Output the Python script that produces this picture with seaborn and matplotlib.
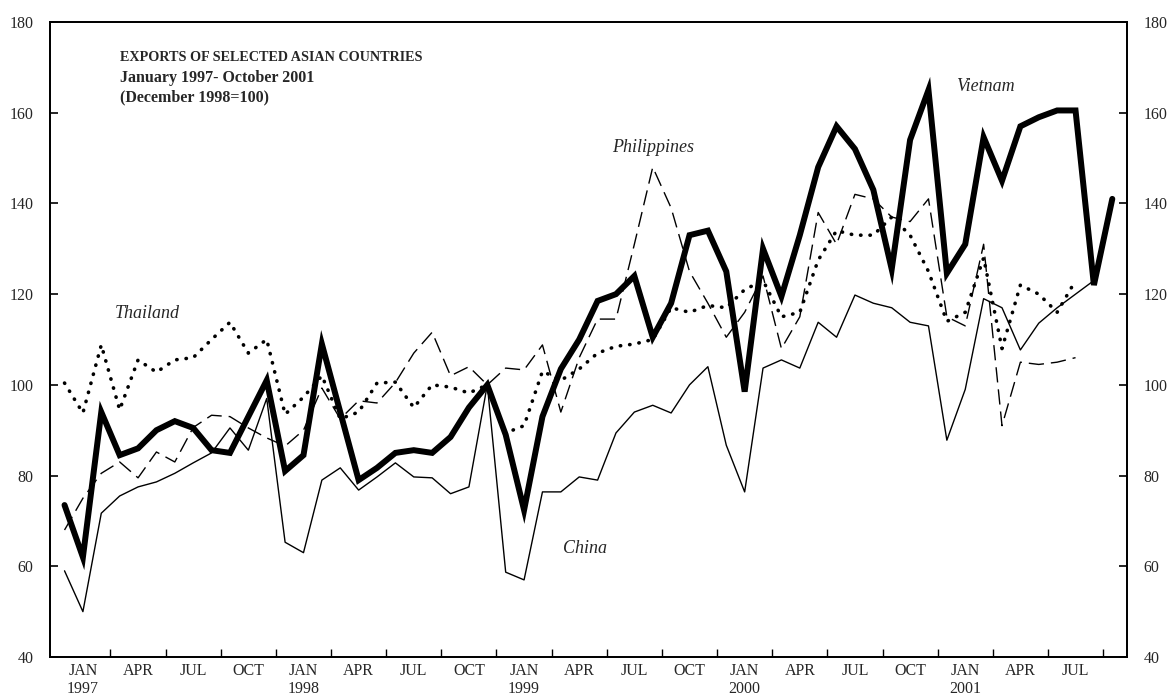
import numpy as np
import pandas as pd
import matplotlib
matplotlib.use("Agg")
import matplotlib.pyplot as plt
import seaborn as sns

nan = np.nan

# Monthly index, January 1997 - October 2001 (December 1998 = 100)
months = pd.date_range("1997-01-01", "2001-10-01", freq="MS")

vietnam = [73.5, 62, 94, 84.5, 86, 90, 92, 90.5, 85.6, 85, 93, 101,
           81, 84.5, 109, 94, 79, 81.7, 85, 85.6, 85, 88.5, 95, 100,
           89, 72.4, 93, 103.5, 110, 118.5, 120, 124, 110.5, 118, 133, 134,
           125, 98.5, 130, 119.5, 133, 148, 157, 152, 143, 125.5, 154, 165,
           124.6, 131, 154.6, 145, 157, 159, 160.5, 160.5, 122, 141]

china = [59, 50, 71.7, 75.5, 77.5, 78.6, 80.5, 82.8, 85, 90.5, 85.6, 97,
         65.3, 63, 79, 81.7, 76.8, 79.7, 82.8, 79.7, 79.5, 76, 77.5, 100,
         58.7, 57, 76.4, 76.4, 79.7, 79, 89.4, 94, 95.5, 93.8, 100, 104,
         86.7, 76.4, 103.7, 105.5, 103.7, 113.8, 110.5, 119.8, 118, 117, 113.8, 113,
         87.8, 99, 119, 117, 107.7, 113.6, 117, 120, 123, nan]

thailand = [100.4, 93.8, 108.8, 94.5, 105.5, 102.8, 105.5, 106, 110, 113.8, 107, 110,
            93.5, 97.3, 102, 92.5, 94, 100.4, 100.6, 95, 100, 99.5, 98.2, 100,
            89.4, 91, 103, 101, 103.5, 107, 108.5, 109, 110, 117, 116, 117.5,
            117, 121, 123, 115, 116, 127.5, 134, 133, 133, 137, 133, 125,
            114, 116, 128, 108, 122, 120, 116, 123, nan, nan]

philippines = [68, 75, 80.5, 83, 79.5, 85.2, 83, 90.6, 93.3, 93, 90.5, 88.3,
               86.5, 90, 99.3, 92.5, 96.5, 96, 100.5, 107, 111.6, 102, 104, 100,
               103.7, 103.3, 108.8, 94, 106, 114.5, 114.5, 131, 148, 139, 125, 118,
               110.5, 116, 124, 108, 115, 138, 131, 142, 141, 137, 136, 141,
               115, 113, 131, 91, 105, 104.5, 105, 106, nan, nan]

quarter_labels = ["JAN\n1997", "APR", "JUL", "OCT",
                  "JAN\n1998", "APR", "JUL", "OCT",
                  "JAN\n1999", "APR", "JUL", "OCT",
                  "JAN\n2000", "APR", "JUL", "OCT",
                  "JAN\n2001", "APR", "JUL"]

y_ticks = [40, 60, 80, 100, 120, 140, 160, 180]

title_lines = ["EXPORTS OF SELECTED ASIAN COUNTRIES",
               "January 1997- October 2001",
               "(December 1998=100)"]

series_labels = {"Thailand": (4.5, 115.8), "Philippines": (32.0, 152.4),
                 "China": (28.3, 64.0), "Vietnam": (50.1, 165.7)}

sns.set_theme(style="white")
plt.rcParams['font.family'] = ['Liberation Serif', 'DejaVu Serif']

fig = plt.figure(figsize=(11.69, 6.98), dpi=100)
ax = fig.add_axes([50 / 1169, 41 / 698, 1077 / 1169, 635 / 698])

idx = np.arange(len(months))
df = pd.DataFrame({"idx": idx, "Vietnam": vietnam, "China": china,
                   "Thailand": thailand, "Philippines": philippines})

sns.lineplot(data=df, x="idx", y="China", ax=ax, color="black", linewidth=1.0)
sns.lineplot(data=df, x="idx", y="Philippines", ax=ax, color="black", linewidth=1.0,
             linestyle=(0, (11, 5)))
sns.lineplot(data=df, x="idx", y="Thailand", ax=ax, color="black", linewidth=2.6,
             linestyle=(0, (0.1, 2.5)), dash_capstyle="round")
sns.lineplot(data=df, x="idx", y="Vietnam", ax=ax, color="black", linewidth=4.3,
             solid_joinstyle="miter")

ax.set_xlim(-0.79, 57.8)
ax.set_ylim(40, 180)
ax.set_xlabel("")
ax.set_ylabel("")

ax.set_xticks(np.arange(2.5, 57, 3))
ax.set_xticklabels([])
ax.set_xticks(np.arange(1, 57, 3), minor=True)
ax.set_xticklabels(quarter_labels, minor=True, fontsize=11.5, linespacing=1.2)
ax.tick_params(axis="x", which="major", direction="in", length=6, width=1.0,
               bottom=True, color="black")
ax.tick_params(axis="x", which="minor", length=0, pad=4, bottom=True)

ax.set_yticks(y_ticks)
ax.set_yticklabels([str(v) for v in y_ticks], fontsize=11.5)
ax.tick_params(axis="y", which="major", direction="in", length=6, width=1.2,
               left=True, pad=12, color="black")

for s in ax.spines.values():
    s.set_color("black")
    s.set_linewidth(1.3)

ax2 = ax.twinx()
ax2.set_ylim(40, 180)
ax2.set_yticks(y_ticks)
ax2.set_yticklabels([str(v) for v in y_ticks], fontsize=11.5)
ax2.tick_params(axis="y", direction="in", length=6, width=1.2, right=True, pad=12,
                color="black")
ax2.grid(False)
for s in ax2.spines.values():
    s.set_color("black")
    s.set_linewidth(1.3)

# Title block (three lines)
title_sizes = [10.2, 11.5, 11.5]
title_y = [0.9435, 0.9125, 0.882]
for line, size, yy in zip(title_lines, title_sizes, title_y):
    ax.text(0.065, yy, line, transform=ax.transAxes, fontsize=size,
            fontweight="bold", va="center", ha="left")

for name, (xx, yy) in series_labels.items():
    ax.text(xx, yy, name, fontsize=13, fontstyle="italic", ha="center", va="center")

fig.savefig("out.png", dpi=100)
